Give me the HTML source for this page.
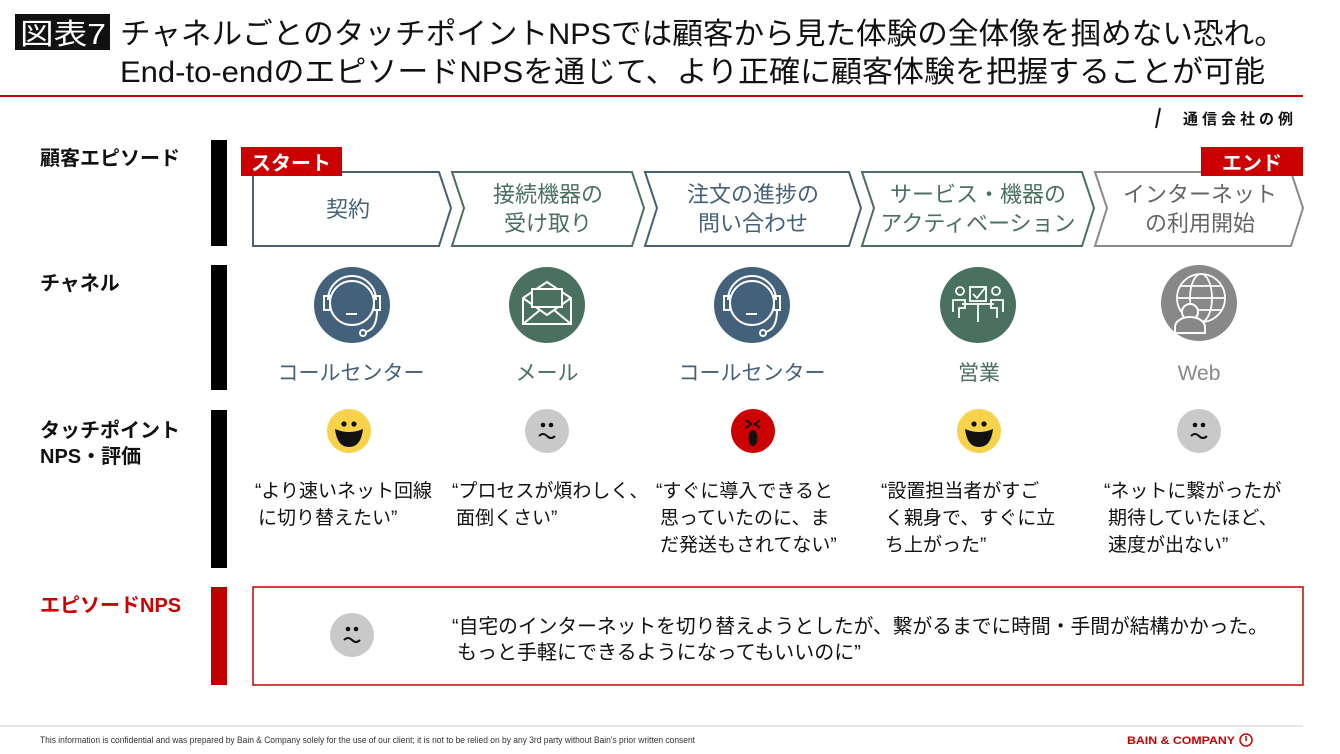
<!DOCTYPE html>
<html><head><meta charset="utf-8"><style>
html,body{margin:0;padding:0;background:#fff;width:1340px;height:754px;overflow:hidden}
svg{display:block}
text{font-family:"Liberation Sans","Noto Sans CJK JP",sans-serif}
</style></head><body>
<svg width="1340" height="754" viewBox="0 0 1340 754" xmlns="http://www.w3.org/2000/svg">
<rect x="15" y="14" width="95" height="36" fill="#111"/>
<text x="20" y="44" font-size="29" fill="#fff" textLength="86" lengthAdjust="spacingAndGlyphs">図表7</text>
<text x="120" y="44" font-size="30" fill="#111" textLength="1165" lengthAdjust="spacingAndGlyphs">チャネルごとのタッチポイントNPSでは顧客から見た体験の全体像を掴めない恐れ。</text>
<text x="120" y="82" font-size="30" fill="#111" textLength="1145" lengthAdjust="spacingAndGlyphs">End-to-endのエピソードNPSを通じて、より正確に顧客体験を把握することが可能</text>
<rect x="0" y="95" width="1303" height="2" fill="#c00000"/>
<line x1="1160" y1="108" x2="1156" y2="128" stroke="#111" stroke-width="2"/>
<text x="1297" y="124" font-size="15" font-weight="bold" fill="#111" text-anchor="end" letter-spacing="4">通信会社の例</text>

<g font-size="20" font-weight="bold" fill="#111">
<text x="40" y="165">顧客エピソード</text>
<text x="40" y="290">チャネル</text>
<text x="40" y="437">タッチポイント</text>
<text x="40" y="463">NPS・評価</text>
<text x="40" y="612" fill="#cc0000">エピソードNPS</text>
</g>
<rect x="211" y="140" width="16" height="106" fill="#000"/>
<rect x="211" y="265" width="16" height="125" fill="#000"/>
<rect x="211" y="410" width="16" height="158" fill="#000"/>
<rect x="211" y="587" width="16" height="98" fill="#c00000"/>

<g fill="#fff" stroke-width="2">
<polygon points="253,172 439,172 451,208 439,246 253,246" stroke="#44617b"/>
<polygon points="452,172 632,172 644,208 632,246 452,246 464,208" stroke="#4a7060"/>
<polygon points="645,172 849,172 861,208 849,246 645,246 657,208" stroke="#44617b"/>
<polygon points="862,172 1082,172 1094,208 1082,246 862,246 874,208" stroke="#4a7060"/>
<polygon points="1095,172 1291,172 1303,208 1291,246 1095,246 1107,208" stroke="#8a8a8a"/>
</g>
<rect x="241" y="147" width="101" height="29" fill="#cc0000"/>
<text x="291" y="170" font-size="20" font-weight="bold" fill="#fff" text-anchor="middle">スタート</text>
<rect x="1201" y="147" width="102" height="29" fill="#cc0000"/>
<text x="1252" y="170" font-size="20" font-weight="bold" fill="#fff" text-anchor="middle">エンド</text>
<g font-size="22" text-anchor="middle">
<text x="348" y="217" fill="#44617b">契約</text>
<text x="548" y="202" fill="#4a7060">接続機器の</text><text x="548" y="231" fill="#4a7060">受け取り</text>
<text x="753" y="202" fill="#44617b">注文の進捗の</text><text x="753" y="231" fill="#44617b">問い合わせ</text>
<text x="978" y="202" fill="#4a7060">サービス・機器の</text><text x="978" y="231" fill="#4a7060">アクティベーション</text>
<text x="1200" y="202" fill="#666">インターネット</text><text x="1200" y="231" fill="#666">の利用開始</text>
</g>

<g>
<circle cx="352" cy="305" r="38" fill="#44617b"/>
<circle cx="352" cy="303" r="22" fill="none" stroke="#fff" stroke-width="2"/>
<path d="M328 300 a24 24 0 0 1 48 0" fill="none" stroke="#fff" stroke-width="2"/>
<rect x="324" y="296" width="6" height="14" fill="none" stroke="#fff" stroke-width="2"/>
<rect x="374" y="296" width="6" height="14" fill="none" stroke="#fff" stroke-width="2"/>
<path d="M377 310 q0 20 -12 22" fill="none" stroke="#fff" stroke-width="2"/>
<circle cx="363" cy="333" r="3" fill="none" stroke="#fff" stroke-width="2"/>
<line x1="346" y1="314" x2="357" y2="314" stroke="#fff" stroke-width="2"/>

<circle cx="547" cy="305" r="38" fill="#4a7060"/>
<path d="M523 298 L547 282 L571 298 V324 H523 Z M523 298 L547 315 L571 298 M523 324 L540 310 M571 324 L554 310" fill="none" stroke="#fff" stroke-width="2"/>
<rect x="532" y="289" width="30" height="18" fill="#4a7060" stroke="#fff" stroke-width="2"/>

<circle cx="752" cy="305" r="38" fill="#44617b"/>
<circle cx="752" cy="303" r="22" fill="none" stroke="#fff" stroke-width="2"/>
<path d="M728 300 a24 24 0 0 1 48 0" fill="none" stroke="#fff" stroke-width="2"/>
<rect x="724" y="296" width="6" height="14" fill="none" stroke="#fff" stroke-width="2"/>
<rect x="774" y="296" width="6" height="14" fill="none" stroke="#fff" stroke-width="2"/>
<path d="M777 310 q0 20 -12 22" fill="none" stroke="#fff" stroke-width="2"/>
<circle cx="763" cy="333" r="3" fill="none" stroke="#fff" stroke-width="2"/>
<line x1="746" y1="314" x2="757" y2="314" stroke="#fff" stroke-width="2"/>

<circle cx="978" cy="305" r="38" fill="#4a7060"/>
<g fill="none" stroke="#fff" stroke-width="1.8">
<rect x="970" y="287" width="16" height="14"/><path d="M973 294 l4 4 l8 -10"/>
<line x1="962" y1="304" x2="994" y2="304"/><line x1="978" y1="304" x2="978" y2="322"/>
<circle cx="960" cy="291" r="4"/><path d="M953 312 v-12 h12 v8 h-6 v10"/>
<circle cx="996" cy="291" r="4"/><path d="M1003 312 v-12 h-12 v8 h6 v10"/>
</g>

<circle cx="1199" cy="303" r="38" fill="#888"/>
<g fill="none" stroke="#fff" stroke-width="1.8">
<circle cx="1201" cy="298" r="24"/>
<ellipse cx="1201" cy="298" rx="11" ry="24"/>
<line x1="1177" y1="298" x2="1225" y2="298"/>
<path d="M1180 286 h42 M1180 310 h42"/>
</g>
<circle cx="1190" cy="312" r="8" fill="#888" stroke="#fff" stroke-width="2"/>
<path d="M1175 333 v-6 a15 10 0 0 1 30 0 v6 z" fill="#888" stroke="#fff" stroke-width="2"/>
</g>
<g font-size="21" text-anchor="middle">
<text x="351" y="380" fill="#44617b">コールセンター</text>
<text x="547" y="380" fill="#4a7060">メール</text>
<text x="752" y="380" fill="#44617b">コールセンター</text>
<text x="979" y="380" fill="#4a7060">営業</text>
<text x="1199" y="380" fill="#888">Web</text>
</g>

<defs>
<g id="happy"><circle r="22" fill="#f7d24a"/><circle cx="-5" cy="-7" r="2.6" fill="#111"/><circle cx="5" cy="-7" r="2.6" fill="#111"/><path d="M-14 -2 Q0 4 14 -2 Q12 16 0 16 Q-12 16 -14 -2 Z" fill="#111"/></g>
<g id="meh"><circle r="22" fill="#c9c9c9"/><circle cx="-4" cy="-6" r="2.3" fill="#111"/><circle cx="4" cy="-6" r="2.3" fill="#111"/><path d="M-8 5 q4 -4 8 0 q4 4 8 0" fill="none" stroke="#111" stroke-width="2"/></g>
<g id="angry"><circle r="22" fill="#cc0000"/><path d="M-7 -11 l5 4 l-5 4 M7 -11 l-5 4 l5 4" fill="none" stroke="#111" stroke-width="2"/><ellipse cx="0" cy="7" rx="4.5" ry="8" fill="#111"/></g>
</defs>
<use href="#happy" x="349" y="431"/>
<use href="#meh" x="547" y="431"/>
<use href="#angry" x="753" y="431"/>
<use href="#happy" x="979" y="431"/>
<use href="#meh" x="1199" y="431"/>

<g font-size="19" fill="#111">
<text x="255" y="497">“より速いネット回線</text><text x="258" y="524">に切り替えたい”</text>
<text x="452" y="497">“プロセスが煩わしく、</text><text x="456" y="524">面倒くさい”</text>
<text x="656" y="497">“すぐに導入できると</text><text x="660" y="524">思っていたのに、ま</text><text x="660" y="551">だ発送もされてない”</text>
<text x="881" y="497">“設置担当者がすご</text><text x="885" y="524">く親身で、すぐに立</text><text x="885" y="551">ち上がった”</text>
<text x="1104" y="497">“ネットに繋がったが</text><text x="1108" y="524">期待していたほど、</text><text x="1108" y="551">速度が出ない”</text>
</g>

<rect x="253" y="587" width="1050" height="98" fill="#fff" stroke="#cc0000" stroke-width="1.5"/>
<use href="#meh" x="352" y="635"/>
<g font-size="20" fill="#111">
<text x="452" y="633" textLength="816" lengthAdjust="spacingAndGlyphs">“自宅のインターネットを切り替えようとしたが、繋がるまでに時間・手間が結構かかった。</text>
<text x="457" y="659">もっと手軽にできるようになってもいいのに”</text>
</g>

<line x1="0" y1="726" x2="1303" y2="726" stroke="#ccc" stroke-width="1"/>
<text x="40" y="743" font-size="9" fill="#333" textLength="655" lengthAdjust="spacingAndGlyphs">This information is confidential and was prepared by Bain &amp; Company solely for the use of our client; it is not to be relied on by any 3rd party without Bain's prior written consent</text>
<text x="1127" y="744" font-size="11" font-weight="bold" fill="#cc0000" textLength="108" lengthAdjust="spacingAndGlyphs">BAIN &amp; COMPANY</text>
<circle cx="1246" cy="740" r="6" fill="none" stroke="#cc0000" stroke-width="1.5"/>
<line x1="1246" y1="736" x2="1246" y2="741" stroke="#cc0000" stroke-width="1.5"/>
</svg>
</body></html>
